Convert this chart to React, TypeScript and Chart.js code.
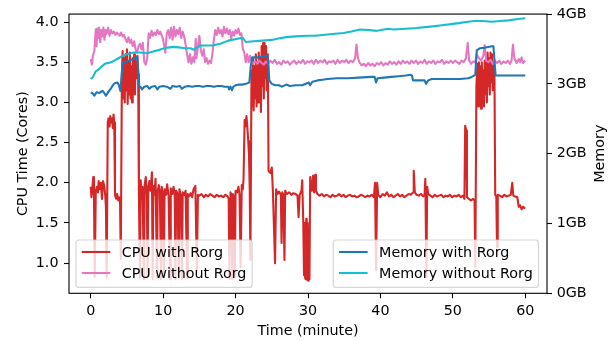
import React, { useEffect, useRef } from "react";
import { Chart, registerables } from "chart.js";
Chart.register(...registerables);

const xTicks = [0, 10, 20, 30, 40, 50, 60];
const cpuTicks = [1.0, 1.5, 2.0, 2.5, 3.0, 3.5, 4.0];
const memTicks = [0, 1, 2, 3, 4];

const seriesLabels = ["CPU with Rorg", "CPU without Rorg", "Memory with Rorg", "Memory without Rorg"];
const axisTitles = { x: "Time (minute)", cpu: "CPU Time (Cores)", mem: "Memory" };

// [minute, cores]
const cpuWithRorg: [number, number][] = [
  [0, 1.95], [0.1, 1.82], [0.2, 1.9], [0.35, 2.07], [0.45, 1.85], [0.55, 0.83], [0.7, 1.9], [0.85, 1.95],
  [1.0, 1.88], [1.1, 2.02], [1.25, 1.92], [1.4, 2.0], [1.55, 1.8], [1.7, 2.02], [1.85, 1.97], [2.0, 1.85],
  [2.1, 1.7], [2.2, 0.82], [2.35, 2.75], [2.45, 2.8], [2.6, 2.7], [2.7, 2.83], [2.85, 2.75], [2.95, 2.8],
  [3.05, 2.68], [3.15, 2.85], [3.25, 2.75], [3.35, 1.85], [3.5, 1.8], [3.65, 1.86], [3.8, 1.78], [3.95, 1.82],
  [4.05, 1.75], [4.15, 1.05], [4.3, 3.3], [4.4, 3.64], [4.5, 3.05], [4.6, 3.55], [4.7, 3.0], [4.8, 3.6],
  [4.9, 3.15], [5.0, 3.66], [5.1, 2.98], [5.2, 3.5], [5.3, 3.1], [5.4, 3.62], [5.5, 3.05], [5.6, 3.45],
  [5.7, 3.0], [5.8, 3.55], [5.9, 3.2], [6.0, 3.6], [6.1, 3.1], [6.2, 3.5], [6.3, 3.3], [6.45, 3.58],
  [6.55, 3.35], [6.65, 1.87], [6.8, 0.82], [6.9, 2.03], [7.0, 1.88], [7.15, 1.95], [7.35, 0.8], [7.45, 1.98],
  [7.6, 2.07], [7.75, 1.85], [7.85, 0.82], [7.95, 1.95], [8.1, 2.02], [8.25, 1.9], [8.45, 2.13], [8.55, 0.8],
  [8.65, 1.96], [8.8, 1.85], [8.95, 2.05], [9.15, 0.82], [9.25, 1.9], [9.4, 1.97], [9.55, 1.88], [9.7, 0.8],
  [9.8, 1.95], [9.95, 1.86], [10.1, 0.83], [10.2, 1.92], [10.4, 1.85], [10.55, 1.98], [10.75, 1.84], [10.95, 0.8],
  [11.05, 1.93], [11.25, 1.86], [11.45, 1.95], [11.6, 1.84], [11.7, 0.8], [11.8, 1.9], [12.0, 1.86], [12.15, 0.82],
  [12.25, 1.92], [12.45, 1.84], [12.6, 0.8], [12.7, 1.88], [12.9, 1.85], [13.1, 1.9], [13.3, 0.82], [13.4, 1.86],
  [13.6, 1.83], [13.8, 1.87], [14.0, 1.82], [14.2, 1.92], [14.45, 1.96], [14.65, 0.9], [14.8, 1.85], [15.0, 1.84],
  [15.3, 1.86], [15.6, 1.82], [15.9, 1.85], [16.2, 1.83], [16.5, 1.86], [16.8, 1.84], [17.1, 1.82], [17.4, 1.85],
  [17.7, 1.83], [18.0, 1.84], [18.3, 1.82], [18.6, 1.85], [18.9, 1.83], [19.05, 1.8], [19.15, 0.8], [19.3, 1.88],
  [19.45, 1.84], [19.55, 0.8], [19.65, 1.86], [19.8, 1.82], [19.9, 0.82], [20.0, 1.9], [20.2, 1.88], [20.4, 1.95],
  [20.55, 1.85], [20.7, 0.95], [20.85, 1.97], [21.0, 1.92], [21.1, 2.05], [21.25, 2.78], [21.35, 2.7], [21.5, 2.83],
  [21.6, 2.72], [21.75, 2.52], [21.85, 2.35], [21.95, 1.95], [22.05, 1.04], [22.2, 3.4], [22.3, 2.95], [22.4, 3.55],
  [22.5, 2.9], [22.6, 3.45], [22.7, 3.05], [22.8, 3.6], [22.9, 2.95], [23.0, 3.5], [23.1, 3.0], [23.2, 3.62],
  [23.3, 3.1], [23.4, 3.55], [23.5, 2.88], [23.6, 3.7], [23.7, 3.2], [23.8, 3.74], [23.9, 3.05], [24.0, 3.74],
  [24.1, 3.3], [24.2, 3.7], [24.3, 3.15], [24.45, 3.6], [24.55, 2.15], [24.8, 2.12], [25.0, 2.19], [25.15, 1.9],
  [25.45, 1.0], [25.6, 1.92], [25.8, 1.86], [26.0, 1.89], [26.25, 1.85], [26.35, 1.25], [26.45, 1.88], [26.6, 1.85],
  [26.75, 1.04], [26.85, 1.9], [27.1, 1.86], [27.4, 1.88], [27.7, 1.85], [28.0, 1.87], [28.3, 1.86], [28.55, 1.84],
  [28.7, 1.57], [28.85, 1.85], [29.1, 1.9], [29.2, 2.03], [29.35, 1.5], [29.45, 0.85], [29.55, 1.5], [29.6, 0.82],
  [29.65, 1.45], [29.7, 0.8], [29.75, 1.55], [29.8, 0.85], [29.85, 1.4], [29.9, 0.79], [29.95, 1.5], [30.0, 0.83],
  [30.05, 1.35], [30.1, 0.78], [30.15, 1.2], [30.2, 0.8], [30.3, 2.07], [30.45, 1.9], [30.55, 1.95], [30.7, 2.09],
  [30.85, 1.88], [31.0, 2.1], [31.1, 1.9], [31.3, 1.86], [31.6, 1.84], [31.9, 1.86], [32.2, 1.83], [32.5, 1.85],
  [32.8, 1.84], [33.1, 1.82], [33.4, 1.85], [33.7, 1.83], [34.0, 1.84], [34.3, 1.86], [34.6, 1.83], [34.9, 1.85],
  [35.2, 1.82], [35.5, 1.84], [35.8, 1.85], [36.1, 1.83], [36.4, 1.84], [36.7, 1.82], [37.0, 1.83], [37.3, 1.85],
  [37.6, 1.84], [37.9, 1.82], [38.2, 1.84], [38.5, 1.83], [38.8, 1.85], [39.1, 1.82], [39.25, 2.0], [39.4, 0.91],
  [39.55, 2.0], [39.7, 1.85], [40.0, 1.82], [40.3, 1.86], [40.6, 1.84], [40.9, 1.88], [41.2, 1.83], [41.5, 1.85],
  [41.8, 1.82], [42.1, 1.84], [42.4, 1.86], [42.7, 1.83], [43.0, 1.85], [43.3, 1.82], [43.6, 1.84], [43.9, 1.86],
  [44.2, 1.85], [44.5, 1.88], [44.6, 2.15], [44.75, 1.88], [45.0, 1.85], [45.3, 1.84], [45.6, 1.86], [45.9, 1.83],
  [46.1, 1.85], [46.2, 2.05], [46.35, 0.83], [46.45, 1.95], [46.6, 1.86], [46.9, 1.84], [47.2, 1.82], [47.5, 1.85],
  [47.8, 1.83], [48.1, 1.84], [48.4, 1.85], [48.7, 1.82], [49.0, 1.84], [49.3, 1.83], [49.6, 1.85], [49.9, 1.82],
  [50.2, 1.84], [50.5, 1.83], [50.8, 1.85], [51.1, 1.82], [51.4, 1.84], [51.6, 1.8], [51.7, 2.71], [51.85, 2.65],
  [51.95, 1.82], [52.2, 1.8], [52.5, 1.78], [52.8, 1.8], [53.0, 1.78], [53.1, 0.95], [53.25, 3.2], [53.4, 3.48],
  [53.5, 2.95], [53.6, 3.5], [53.7, 3.0], [53.8, 3.45], [53.9, 2.92], [54.0, 3.5], [54.1, 3.05], [54.2, 3.4],
  [54.3, 2.95], [54.4, 3.52], [54.5, 3.1], [54.6, 3.55], [54.7, 3.0], [54.8, 3.62], [54.9, 3.2], [55.0, 3.55],
  [55.1, 3.1], [55.2, 3.62], [55.3, 3.25], [55.4, 3.6], [55.5, 3.15], [55.6, 3.5], [55.75, 3.3], [55.85, 1.85],
  [56.0, 1.83], [56.1, 1.2], [56.2, 1.85], [56.5, 1.84], [56.8, 1.82], [57.1, 1.85], [57.4, 1.83], [57.7, 1.84],
  [58.0, 1.85], [58.2, 2.0], [58.35, 1.84], [58.6, 1.83], [58.9, 1.82], [59.1, 1.7], [59.3, 1.72], [59.5, 1.67],
  [59.7, 1.7], [60.0, 1.68],
];

const cpuWithoutRorg: [number, number][] = [
  [0, 3.54], [0.15, 3.47], [0.3, 3.58], [0.5, 3.64], [0.7, 3.91], [0.8, 3.7], [0.9, 3.92], [1.0, 3.8],
  [1.15, 3.93], [1.3, 3.75], [1.45, 3.9], [1.6, 3.82], [1.75, 3.93], [1.9, 3.78], [2.05, 3.9], [2.2, 3.85],
  [2.4, 3.93], [2.6, 3.83], [2.8, 3.9], [3.0, 3.86], [3.2, 3.88], [3.4, 3.84], [3.6, 3.87], [3.8, 3.85],
  [4.0, 3.83], [4.2, 3.87], [4.4, 3.82], [4.6, 3.84], [4.8, 3.79], [5.0, 3.75], [5.2, 3.81], [5.4, 3.74],
  [5.6, 3.78], [5.8, 3.7], [6.0, 3.76], [6.2, 3.66], [6.4, 3.62], [6.6, 3.7], [6.8, 3.73], [7.0, 3.66],
  [7.2, 3.74], [7.4, 3.5], [7.6, 3.47], [7.8, 3.55], [8.0, 3.86], [8.2, 3.8], [8.4, 3.89], [8.6, 3.83],
  [8.8, 3.87], [9.0, 3.84], [9.2, 3.9], [9.4, 3.85], [9.6, 3.88], [9.8, 3.83], [10.0, 3.78], [10.3, 3.62],
  [10.5, 3.86], [10.7, 3.9], [10.9, 3.8], [11.1, 3.93], [11.3, 3.78], [11.5, 3.94], [11.7, 3.82], [11.9, 3.9],
  [12.1, 3.85], [12.3, 3.93], [12.5, 3.8], [12.7, 3.88], [12.9, 3.82], [13.1, 3.72], [13.3, 3.6], [13.5, 3.5],
  [13.7, 3.6], [13.9, 3.48], [14.1, 3.56], [14.3, 3.5], [14.5, 3.79], [14.6, 3.55], [14.8, 3.7], [15.0, 3.83],
  [15.2, 3.65], [15.4, 3.58], [15.6, 3.66], [15.8, 3.5], [16.0, 3.55], [16.2, 3.48], [16.4, 3.52], [16.6, 3.49],
  [16.8, 3.6], [17.0, 3.78], [17.2, 3.9], [17.4, 3.84], [17.6, 3.93], [17.8, 3.86], [18.0, 3.9], [18.2, 3.82],
  [18.4, 3.94], [18.6, 3.86], [18.8, 3.92], [19.0, 3.85], [19.2, 3.9], [19.4, 3.8], [19.6, 3.88], [19.8, 3.83],
  [20.0, 3.9], [20.2, 3.86], [20.4, 3.92], [20.6, 3.84], [20.8, 3.86], [21.0, 3.67], [21.2, 3.62], [21.4, 3.5],
  [21.6, 3.6], [21.8, 3.5], [22.0, 3.58], [22.2, 3.52], [22.4, 3.48], [22.7, 3.51], [23.0, 3.48], [23.3, 3.52],
  [23.6, 3.49], [23.9, 3.47], [24.2, 3.51], [24.5, 3.48], [24.8, 3.52], [25.1, 3.49], [25.4, 3.53], [25.7, 3.48],
  [26.0, 3.5], [26.3, 3.47], [26.6, 3.52], [26.9, 3.49], [27.2, 3.51], [27.5, 3.47], [27.8, 3.5], [28.1, 3.52],
  [28.4, 3.48], [28.7, 3.51], [29.0, 3.49], [29.3, 3.53], [29.6, 3.48], [29.9, 3.51], [30.2, 3.5], [30.5, 3.52],
  [30.8, 3.48], [31.1, 3.53], [31.4, 3.49], [31.7, 3.52], [32.0, 3.5], [32.3, 3.53], [32.6, 3.48], [32.9, 3.51],
  [33.2, 3.5], [33.5, 3.52], [33.8, 3.48], [34.1, 3.53], [34.4, 3.49], [34.7, 3.52], [35.0, 3.5], [35.3, 3.53],
  [35.6, 3.49], [35.9, 3.52], [36.2, 3.5], [36.5, 3.55], [36.7, 3.72], [36.9, 3.55], [37.1, 3.5], [37.4, 3.46],
  [37.7, 3.48], [38.0, 3.45], [38.3, 3.49], [38.6, 3.46], [38.9, 3.48], [39.2, 3.45], [39.5, 3.49], [39.8, 3.47],
  [40.1, 3.5], [40.4, 3.46], [40.7, 3.49], [41.0, 3.47], [41.3, 3.51], [41.6, 3.48], [41.9, 3.5], [42.2, 3.47],
  [42.5, 3.51], [42.8, 3.48], [43.1, 3.52], [43.4, 3.49], [43.7, 3.51], [44.0, 3.48], [44.3, 3.52], [44.6, 3.49],
  [44.9, 3.52], [45.2, 3.48], [45.5, 3.51], [45.8, 3.49], [46.1, 3.53], [46.4, 3.48], [46.7, 3.51], [47.0, 3.49],
  [47.3, 3.52], [47.6, 3.48], [47.9, 3.51], [48.2, 3.5], [48.5, 3.53], [48.8, 3.48], [49.1, 3.51], [49.4, 3.49],
  [49.7, 3.52], [50.0, 3.49], [50.3, 3.52], [50.6, 3.5], [50.9, 3.48], [51.2, 3.52], [51.5, 3.5], [51.8, 3.55],
  [52.05, 3.74], [52.25, 3.52], [52.5, 3.48], [52.8, 3.51], [53.1, 3.5], [53.3, 3.6], [53.6, 3.55], [53.9, 3.52],
  [54.2, 3.58], [54.4, 3.71], [54.6, 3.52], [54.9, 3.5], [55.2, 3.53], [55.5, 3.48], [55.8, 3.52], [56.1, 3.49],
  [56.4, 3.52], [56.7, 3.48], [57.0, 3.51], [57.3, 3.49], [57.6, 3.52], [57.9, 3.48], [58.1, 3.52], [58.3, 3.72],
  [58.5, 3.55], [58.8, 3.49], [59.1, 3.54], [59.3, 3.5], [59.5, 3.56], [59.7, 3.49], [60.0, 3.52],
];

// [minute, GB]
const memWithRorg: [number, number][] = [
  [0, 2.88], [0.3, 2.86], [0.5, 2.83], [0.8, 2.88], [1.2, 2.87], [1.6, 2.9], [1.8, 2.88], [2.1, 2.83],
  [2.4, 2.88], [2.7, 2.92], [3.0, 2.97], [3.3, 3.01], [3.7, 3.02], [3.9, 2.98], [4.1, 2.9], [4.25, 3.1],
  [4.4, 3.3], [5.0, 3.32], [5.5, 3.34], [6.0, 3.36], [6.4, 3.39], [6.55, 3.2], [6.7, 2.97], [6.9, 2.95],
  [7.1, 2.92], [7.4, 2.96], [7.8, 2.97], [8.1, 2.93], [8.4, 2.96], [8.9, 2.97], [9.2, 2.92], [9.5, 2.96],
  [10.0, 2.97], [10.5, 2.96], [11.0, 2.93], [11.3, 2.97], [11.8, 2.96], [12.3, 2.97], [12.6, 2.93], [13.0, 2.96],
  [13.5, 2.97], [14.0, 2.96], [14.5, 2.97], [15.0, 2.97], [15.5, 2.96], [16.0, 2.97], [16.5, 2.97], [17.0, 2.96],
  [17.5, 2.97], [18.0, 2.97], [18.5, 2.96], [19.0, 2.96], [19.1, 2.92], [19.3, 2.96], [19.5, 2.91], [19.7, 2.96],
  [20.0, 2.98], [20.5, 2.99], [21.0, 2.99], [21.4, 3.0], [21.9, 3.02], [22.1, 3.26], [22.3, 3.38], [23.0, 3.38],
  [23.7, 3.39], [24.4, 3.41], [24.55, 3.26], [24.65, 3.05], [25.0, 3.0], [25.5, 2.98], [26.0, 2.98], [26.4, 2.96],
  [27.0, 2.99], [27.5, 2.97], [28.3, 2.98], [29.2, 2.98], [30.1, 3.02], [30.3, 2.98], [30.6, 3.03], [31.3, 3.05],
  [32.0, 3.06], [32.7, 3.07], [34.0, 3.08], [35.5, 3.08], [37.0, 3.09], [38.7, 3.1], [39.2, 3.1], [39.4, 3.02],
  [39.6, 3.08], [40.5, 3.09], [41.5, 3.1], [42.5, 3.11], [43.5, 3.12], [44.2, 3.13], [44.35, 3.12], [44.5, 3.05],
  [45.2, 3.05], [46.1, 3.05], [46.3, 3.0], [46.6, 3.05], [47.1, 3.07], [48.0, 3.07], [49.0, 3.07], [50.0, 3.07],
  [51.0, 3.07], [52.1, 3.08], [52.6, 3.1], [53.1, 3.13], [53.3, 3.48], [53.7, 3.51], [54.5, 3.52], [55.4, 3.54],
  [55.6, 3.54], [55.9, 3.12], [56.5, 3.12], [57.5, 3.12], [58.5, 3.12], [60, 3.12],
];

const memWithoutRorg: [number, number][] = [
  [0, 3.07], [0.3, 3.1], [0.7, 3.18], [1.0, 3.2], [1.4, 3.24], [2.0, 3.29], [2.8, 3.31], [3.2, 3.33],
  [3.7, 3.36], [4.2, 3.39], [4.6, 3.41], [5.2, 3.43], [6.0, 3.45], [6.8, 3.45], [7.8, 3.44], [8.5, 3.46],
  [9.2, 3.48], [9.8, 3.5], [10.6, 3.52], [11.5, 3.53], [12.4, 3.52], [13.0, 3.51], [13.8, 3.51], [14.2, 3.49],
  [15.2, 3.55], [16.8, 3.55], [18.0, 3.58], [19.0, 3.62], [20.4, 3.65], [21.0, 3.66], [21.4, 3.6], [22.5, 3.61],
  [23.7, 3.62], [25.0, 3.63], [25.9, 3.65], [27.0, 3.67], [28.3, 3.68], [30.0, 3.69], [31.0, 3.69], [33.0, 3.71],
  [34.9, 3.73], [36.0, 3.75], [37.2, 3.78], [38.5, 3.77], [39.5, 3.76], [40.5, 3.78], [41.1, 3.79], [41.8, 3.78],
  [43.5, 3.79], [45.0, 3.8], [46.9, 3.82], [48.5, 3.84], [50.0, 3.86], [50.8, 3.87], [52.1, 3.89], [53.0, 3.9],
  [54.0, 3.9], [55.4, 3.89], [56.5, 3.9], [57.7, 3.91], [59.0, 3.93], [60.0, 3.94],
];

const colors = { red: "#d62728", pink: "#e377c2", blue: "#1f77b4", cyan: "#17becf" };
const FS = 14.3;
const FONT = `${FS}px "DejaVu Sans"`;

function drawLegend(ctx: CanvasRenderingContext2D, left: number | null, right: number | null, top: number, items: { label: string; color: string }[]) {
  ctx.font = FONT;
  const maxW = Math.max(...items.map((i) => ctx.measureText(i.label).width));
  const pad = FS * 0.4, hl = FS * 2, htp = FS * 0.8;
  const w = pad * 2 + hl + htp + maxW;
  const h = 47.3;
  const x0 = left !== null ? left : (right as number) - w;
  ctx.save();
  ctx.beginPath();
  if ((ctx as any).roundRect) (ctx as any).roundRect(x0, top, w, h, 2.9);
  else ctx.rect(x0, top, w, h);
  ctx.fillStyle = "rgba(255,255,255,0.8)";
  ctx.fill();
  ctx.lineWidth = 1.2;
  ctx.strokeStyle = "rgba(204,204,204,0.8)";
  ctx.stroke();
  items.forEach((it, i) => {
    const cy = top + 12 + i * 21;
    ctx.beginPath();
    ctx.moveTo(x0 + pad, cy);
    ctx.lineTo(x0 + pad + hl, cy);
    ctx.strokeStyle = it.color;
    ctx.lineWidth = 2.1;
    ctx.stroke();
    ctx.fillStyle = "#000";
    ctx.textAlign = "left";
    ctx.textBaseline = "alphabetic";
    ctx.fillText(it.label, x0 + pad + hl + htp, cy + 5.3);
  });
  ctx.restore();
}

const decorPlugin = {
  id: "decor",
  afterDatasetsDraw(chart: any) {
    const { ctx, chartArea: a } = chart;
    ctx.save();
    ctx.strokeStyle = "#000";
    ctx.lineWidth = 1.1;
    ctx.strokeRect(a.left, a.top, a.right - a.left, a.bottom - a.top);
    ctx.restore();
    drawLegend(ctx, a.left + 7, null, 240, [
      { label: seriesLabels[0], color: colors.red },
      { label: seriesLabels[1], color: colors.pink },
    ]);
    drawLegend(ctx, null, a.right - 8.5, 240, [
      { label: seriesLabels[2], color: colors.blue },
      { label: seriesLabels[3], color: colors.cyan },
    ]);
  },
  afterDraw(chart: any) {
    const { ctx, chartArea: a } = chart;
    ctx.save();
    ctx.font = FONT;
    ctx.fillStyle = "#000";
    ctx.textAlign = "center";
    ctx.textBaseline = "alphabetic";
    ctx.fillText(axisTitles.x, (a.left + a.right) / 2, 335.3);
    const cy = (a.top + a.bottom) / 2;
    ctx.save();
    ctx.translate(27.3, cy);
    ctx.rotate(-Math.PI / 2);
    ctx.fillText(axisTitles.cpu, 0, 0);
    ctx.restore();
    ctx.save();
    ctx.translate(603.6, cy);
    ctx.rotate(-Math.PI / 2);
    ctx.fillText(axisTitles.mem, 0, 0);
    ctx.restore();
    ctx.restore();
  },
};

const tickFont = { family: "DejaVu Sans", size: FS };

export default function App() {
  const ref = useRef<HTMLCanvasElement>(null);
  useEffect(() => {
    if (!ref.current) return;
    const mk = (arr: [number, number][]) => arr.map(([x, y]) => ({ x, y }));
    const common = { pointRadius: 0, borderWidth: 2.1, tension: 0, fill: false, borderJoinStyle: "round" as const, xAxisID: "x" };
    const chart = new Chart(ref.current, {
      type: "line",
      data: {
        datasets: [
          { ...common, label: seriesLabels[3], data: mk(memWithoutRorg), borderColor: colors.cyan, yAxisID: "yMem" },
          { ...common, label: seriesLabels[2], data: mk(memWithRorg), borderColor: colors.blue, yAxisID: "yMem" },
          { ...common, label: seriesLabels[1], data: mk(cpuWithoutRorg), borderColor: colors.pink, yAxisID: "yCpu" },
          { ...common, label: seriesLabels[0], data: mk(cpuWithRorg), borderColor: colors.red, yAxisID: "yCpu" },
        ],
      },
      options: {
        animation: false,
        responsive: false,
        devicePixelRatio: 1,
        events: [],
        layout: { padding: { top: 13, left: 0, right: 0, bottom: 0 } },
        plugins: { legend: { display: false }, tooltip: { enabled: false } },
        scales: {
          x: {
            type: "linear",
            position: "bottom",
            min: -3,
            max: 63,
            afterFit: (s: any) => { s.height = 47.7; },
            afterBuildTicks: (s: any) => { s.ticks = xTicks.map((v) => ({ value: v })); },
            ticks: { font: tickFont, color: "#000", padding: 4, maxRotation: 0, callback: (v: any) => String(v) },
            grid: { display: true, drawOnChartArea: false, drawTicks: true, tickLength: 5, tickColor: "#000", tickWidth: 1.1 },
            border: { display: false },
          },
          yCpu: {
            type: "linear",
            position: "left",
            min: 0.6244,
            max: 4.099,
            afterFit: (s: any) => { s.width = 69; },
            afterBuildTicks: (s: any) => { s.ticks = cpuTicks.map((v) => ({ value: v })); },
            ticks: { font: tickFont, color: "#000", padding: 5.5, callback: (v: any) => Number(v).toFixed(1) },
            grid: { display: true, drawOnChartArea: false, drawTicks: true, tickLength: 5, tickColor: "#000", tickWidth: 1.1 },
            border: { display: false },
          },
          yMem: {
            type: "linear",
            position: "right",
            min: 0,
            max: 4,
            afterFit: (s: any) => { s.width = 68; },
            afterBuildTicks: (s: any) => { s.ticks = memTicks.map((v) => ({ value: v })); },
            ticks: { font: tickFont, color: "#000", padding: 4.7, callback: (v: any) => `${v}GB` },
            grid: { display: true, drawOnChartArea: false, drawTicks: true, tickLength: 5, tickColor: "#000", tickWidth: 1.1 },
            border: { display: false },
          },
        },
      },
      plugins: [decorPlugin],
    } as any);
    return () => chart.destroy();
  }, []);
  return (
    <div style={{ position: "fixed", left: 0, top: 0, width: 615, height: 341, background: "#fff" }}>
      <canvas ref={ref} width={615} height={341} style={{ display: "block", width: 615, height: 341 }} />
    </div>
  );
}
